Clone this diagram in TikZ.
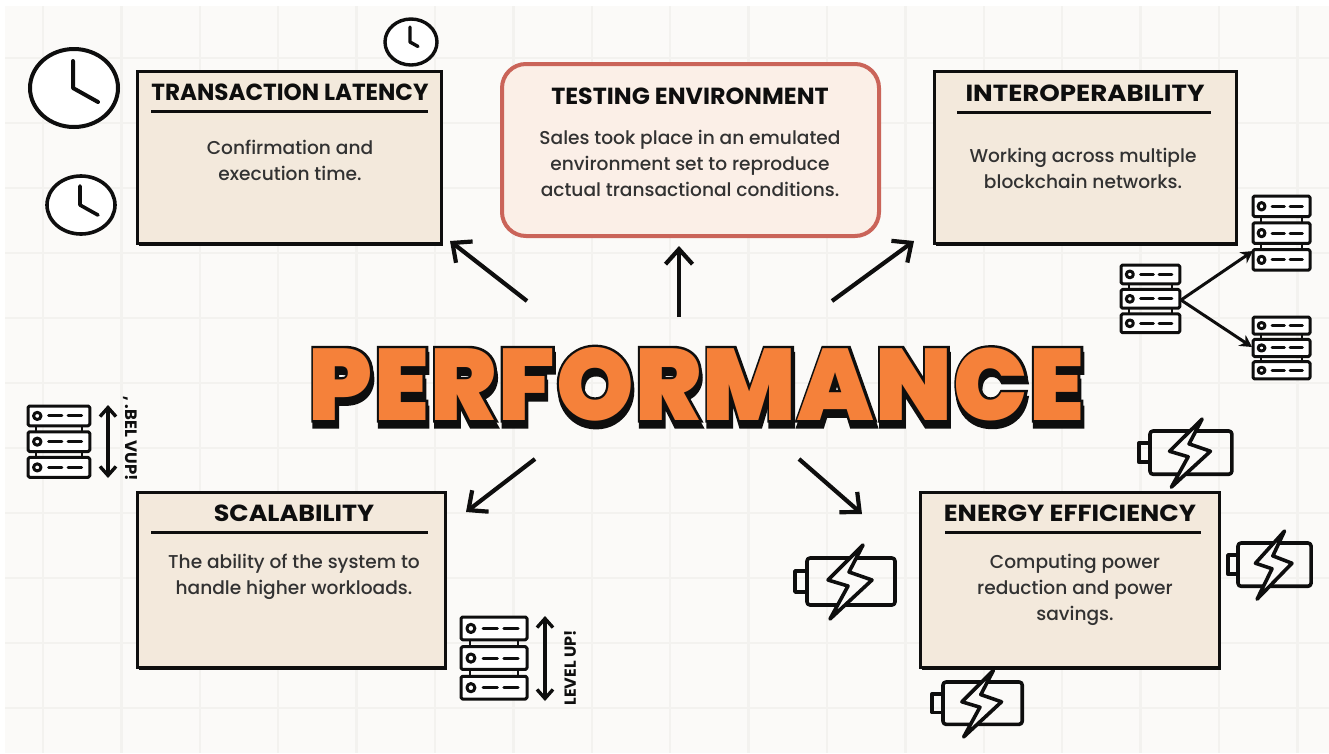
\documentclass[tikz,border=0pt]{standalone}
\usepackage{fontspec}
\usetikzlibrary{arrows.meta,shadows,calc}
\setmainfont{Poppins}
\newfontfamily\headfont{Poppins Bold}
\newfontfamily\bodyfont{Poppins Medium}
\newfontfamily\heavyfont[LetterSpace=1.5]{Poppins Black}
\newfontfamily\heavyout[FakeBold=5,LetterSpace=1.5]{Poppins Black}
\definecolor{paper}{HTML}{FBFAF8}
\definecolor{gridc}{HTML}{F3F2EF}
\definecolor{cardc}{HTML}{F3E9DC}
\definecolor{warmc}{HTML}{FBEFE7}
\definecolor{redc}{HTML}{CA6459}
\definecolor{orangec}{HTML}{F5813A}
\definecolor{inkc}{HTML}{0E0E0E}
\tikzset{
  x=1pt,y=-1pt,
  cardbox/.style={draw=inkc,line width=3pt,fill=cardc,inner sep=0pt,
    general shadow={fill=inkc,shadow xshift=1.5pt,shadow yshift=-3pt}},
  warmbox/.style={draw=redc,line width=4pt,fill=warmc,rounded corners=24pt,inner sep=0pt},
  headtext/.style={font=\headfont\fontsize{23.3}{26}\selectfont,text=inkc,inner sep=0pt},
  bodytext/.style={font=\bodyfont\fontsize{18.6}{26}\selectfont,text=inkc!85,align=center,inner sep=0pt},
  headrule/.style={draw=inkc,line width=2.6pt},
  bigarrow/.style={draw=inkc,line width=4.2pt,-{Straight Barb[length=15pt,width=27pt,line width=4.2pt]}},
  thinarrow/.style={draw=inkc,line width=3pt,-{Stealth[length=12pt,width=13pt]}},
  bothway/.style={draw=inkc,line width=3.4pt,{Straight Barb[length=9pt,width=16pt,line width=3.4pt]}-{Straight Barb[length=9pt,width=16pt,line width=3.4pt]}},
  icon/.style={draw=inkc,line width=3pt,line join=round,line cap=round},
  pics/serverstack/.style={code={
    \foreach \t in {0,26,52}{
      \draw[icon,fill=white,rounded corners=1.5pt] (0,\t) rectangle (60,\t+20);
      \draw[icon,fill=white] (9,\t+10) circle[radius=3.6pt];
      \draw[icon] (20,\t+10) -- (33,\t+10) (39,\t+10) -- (52,\t+10);
    }
    \draw[icon,line width=2pt] (8,20) -- (8,26) (52,20) -- (52,26) (8,46) -- (8,52) (52,46) -- (52,52);
  }},
  pics/batterypack/.style={code={
    \draw[icon,line width=3.6pt,rounded corners=3pt] (0,0) rectangle (88,47);
    \draw[icon,line width=3.6pt] (0,13) -- (-12,13) -- (-12,34) -- (0,34);
    \draw[icon,line width=3.6pt,fill=paper,miter limit=10] (56,-13) -- (21,22) -- (41,28) -- (23,61) -- (65,22) -- (42,14) -- cycle;
  }},
}
\newcommand{\clockface}[7]{%
  \draw[draw=inkc,line width=#7pt,fill=white] (#1,#2) ellipse[x radius=#3pt,y radius=#4pt];
  \draw[draw=inkc,line width=#7pt,line cap=round,line join=round] (#1-1,#2-#5) -- (#1-1,#2) -- (#1-1+#6*1.0,#2+#6*0.56);
}
\newcommand{\titlelayer}[1]{\resizebox{793pt}{73pt}{#1 PERFORMANCE}}
\begin{document}
\begin{tikzpicture}
\useasboundingbox (0,0) rectangle (1329,753);
\fill[white] (0,0) rectangle (1329,753);
\fill[paper] (5,6) rectangle (1329,753);
% grid
\foreach \k in {0,...,16}{\draw[gridc,line width=2.5pt] ({43+78.4*\k},6) -- ({43+78.4*\k},753);}
\foreach \k in {0,...,10}{\draw[gridc,line width=2.5pt] (5,{58+65*\k}) -- (1329,{58+65*\k});}

% clocks
\clockface{74}{88}{44}{39}{27}{25}{4}
\clockface{411}{42}{26}{23}{15}{8}{3.4}
\clockface{81}{205}{34}{29}{19}{18}{3.6}

% servers
\pic[xscale=0.95,yscale=1.03] at (1253,196) {serverstack};
\pic[xscale=0.98,yscale=0.94] at (1121,265) {serverstack};
\pic[xscale=0.95,yscale=0.86] at (1253,317) {serverstack};
\pic[xscale=1.03,yscale=0.99] at (28,406) {serverstack};
\pic[xscale=1.10,yscale=1.14] at (461,617) {serverstack};
\coordinate (srcPort) at (1181,300);
\coordinate (dstUpper) at (1253,251);
\coordinate (dstLower) at (1252,347);
\draw[thinarrow] (srcPort) -- (dstUpper);
\draw[thinarrow] (srcPort) -- (dstLower);

\coordinate (leftUpT) at (108,405);
\coordinate (leftUpB) at (108,478);
\draw[bothway] (leftUpT) -- (leftUpB);
\coordinate (rightUpT) at (545,616);
\coordinate (rightUpB) at (545,701);
\draw[bothway] (rightUpT) -- (rightUpB);
\node[rotate=-90,font=\headfont\fontsize{16.5}{18}\selectfont,text=inkc,inner sep=0pt] (garbled) at (130,439) {, .BEL VUP!};
\node[rotate=90,font=\headfont\fontsize{16}{18}\selectfont,text=inkc,inner sep=0pt] (levelup) at (570,668) {LEVEL UP!};

% batteries
\pic at (807,558) {batterypack};
\pic[xscale=0.93,yscale=0.92] at (1150,431) {batterypack};
\pic[xscale=0.83,yscale=0.92] at (1238,543) {batterypack};
\pic[xscale=0.90,yscale=0.90] at (943,682) {batterypack};

% cards
\node[cardbox,minimum width=304pt,minimum height=172pt] (latency) at (289,157) {};
\node[warmbox,minimum width=377pt,minimum height=172pt] (testing) at (690.5,150) {};
\node[cardbox,minimum width=302pt,minimum height=172pt] (interop) at (1085,157) {};
\node[cardbox,minimum width=308pt,minimum height=175pt] (scale) at (291,579.5) {};
\node[cardbox,minimum width=299pt,minimum height=175pt] (energy) at (1069.5,579.5) {};

\node[headtext] (latencyH) at (290,92) {\scalebox{0.99}[1]{TRANSACTION LATENCY}};
\draw[headrule] (151,111.5) -- (428,111.5);
\node[bodytext] (latencyB) at (290,160) {Confirmation and\\execution time.};

\node[headtext] (testingH) at (690,96) {\scalebox{1.02}[1]{TESTING ENVIRONMENT}};
\node[bodytext] (testingB) at (690,163) {Sales took place in an emulated\\environment set to reproduce\\actual transactional conditions.};

\node[headtext] (interopH) at (1085,93) {\scalebox{1.12}[1]{INTEROPERABILITY}};
\draw[headrule] (957,112.5) -- (1211,112.5);
\node[bodytext] (interopB) at (1083,168) {Working across multiple\\blockchain networks.};

\node[headtext] (scaleH) at (294,513) {\scalebox{1.09}[1]{SCALABILITY}};
\draw[headrule] (151,532.5) -- (428,532.5);
\node[bodytext] (scaleB) at (294,577) {The ability of the system to\\handle higher workloads.};

\node[headtext] (energyH) at (1070,513) {\scalebox{1.1}[1]{ENERGY EFFICIENCY}};
\draw[headrule] (945,532.5) -- (1201,532.5);
\node[bodytext] (energyB) at (1075,590) {Computing power\\reduction and power\\savings.};

% title
\node[inner sep=0pt,text=inkc] (perfShadow) at (688.5,390) {\titlelayer{\heavyout}};
\node[inner sep=0pt,text=inkc] (perfOutline) at (687.5,384) {\titlelayer{\heavyout}};
\node[inner sep=0pt,text=orangec] (perf) at (687.5,384) {\titlelayer{\heavyfont}};

% arrows
\coordinate (outTL) at (527,301); \coordinate (inTL) at (450,241);
\coordinate (outT) at (679,317);  \coordinate (inT) at (679,246);
\coordinate (outTR) at (832,301); \coordinate (inTR) at (914,241);
\coordinate (outBL) at (535,459); \coordinate (inBL) at (466,512);
\coordinate (outBR) at (799,459); \coordinate (inBR) at (862,514);
\draw[bigarrow] (outTL) -- (inTL);
\draw[bigarrow] (outT) -- (inT);
\draw[bigarrow] (outTR) -- (inTR);
\draw[bigarrow] (outBL) -- (inBL);
\draw[bigarrow] (outBR) -- (inBR);
\end{tikzpicture}
\end{document}
